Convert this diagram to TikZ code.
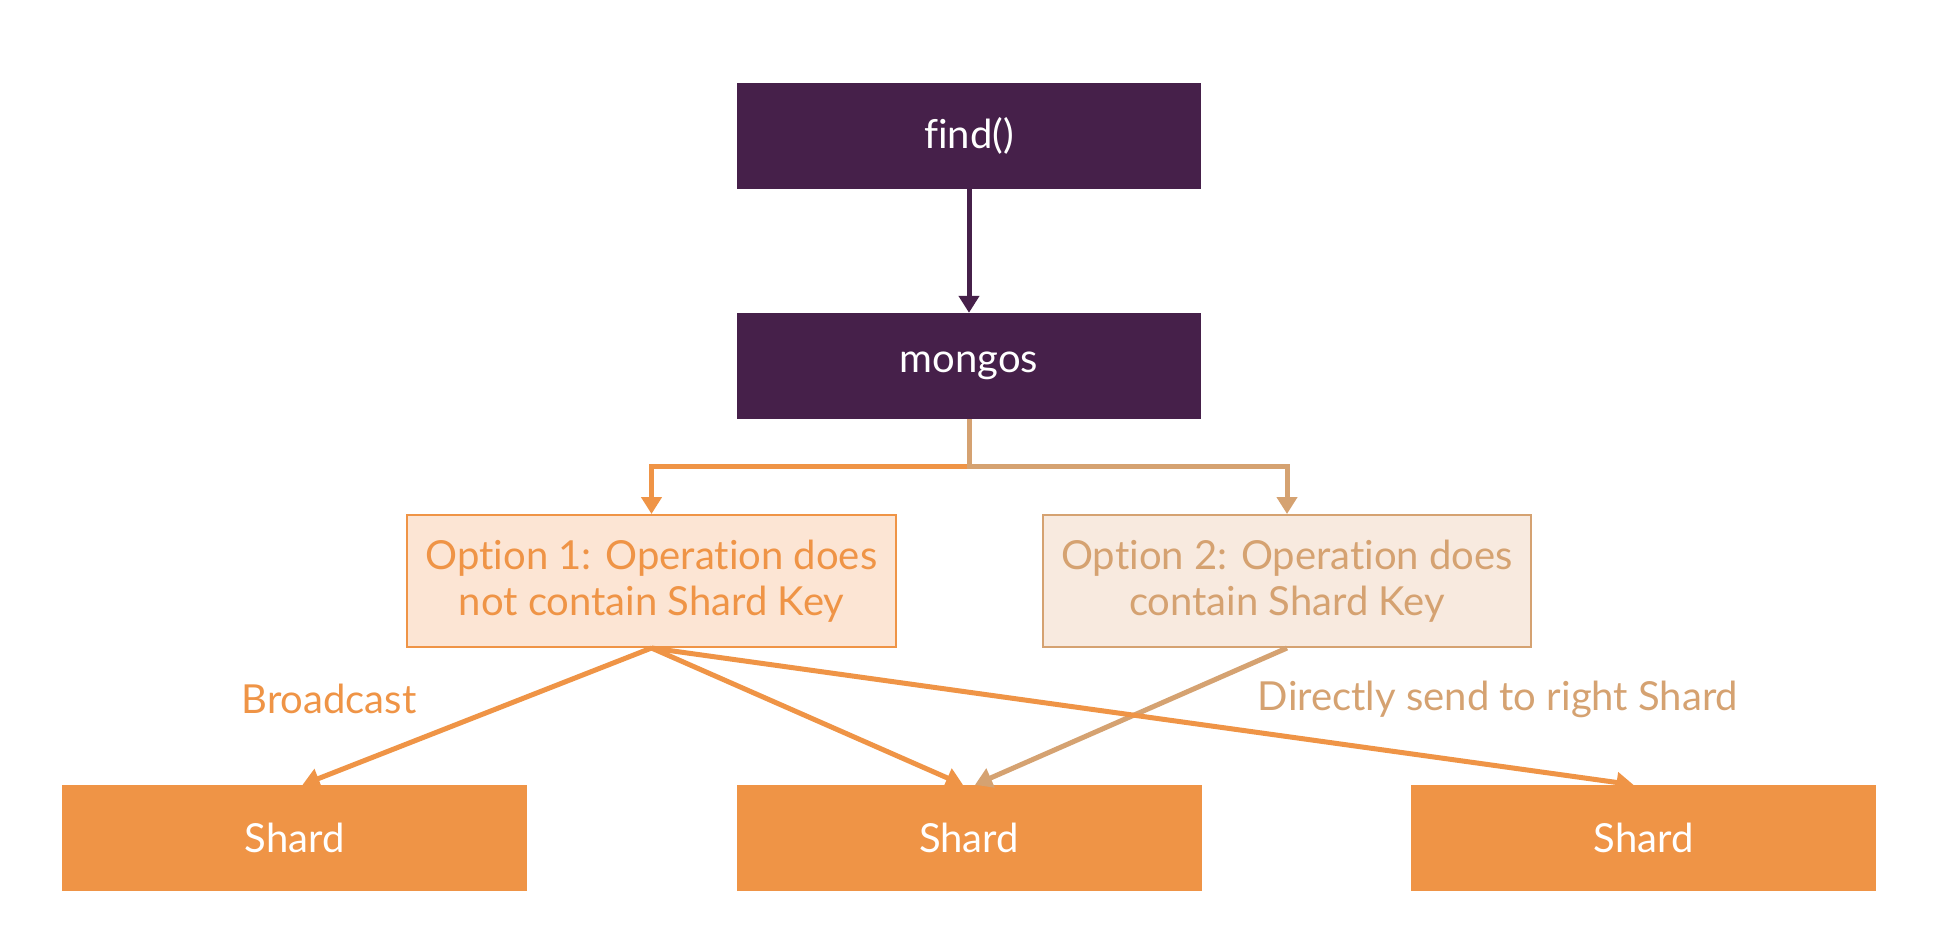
\documentclass[tikz,border=0pt]{standalone}
\usepackage{fontspec}
\setmainfont[Ligatures=NoCommon]{Lato}
\usetikzlibrary{arrows.meta,calc}
\definecolor{purp}{HTML}{46204A}
\definecolor{orng}{HTML}{EF9446}
\definecolor{tan}{HTML}{D5A271}
\definecolor{peach}{HTML}{FCE5D4}
\definecolor{cream}{HTML}{F8EADF}
\begin{document}
\begin{tikzpicture}[x=1pt,y=-1pt,
  txt/.style={font=\fontsize{40}{46}\selectfont},
  darkbox/.style={rectangle,fill=purp,text=white,minimum width=464pt,minimum height=106pt,inner sep=0pt,txt},
  optA/.style={rectangle,draw=orng,line width=2pt,fill=peach,text=orng,minimum width=489pt,minimum height=132pt,inner sep=0pt,align=center,txt},
  optB/.style={rectangle,draw=tan,line width=2pt,fill=cream,text=tan,minimum width=488pt,minimum height=132pt,inner sep=0pt,align=center,txt},
  shardbox/.style={rectangle,fill=orng,text=white,minimum width=465pt,minimum height=106pt,inner sep=0pt,txt},
  tip/.style={-{Triangle[width=20pt,length=17pt]}},
  conn/.style={line width=5pt,tip}
]
\useasboundingbox (0,0) rectangle (1948,948);
\fill[white] (0,0) rectangle (1948,948);
\node[darkbox] (find) at (969,136) {find()};
\node[darkbox] (mongos) at (969,366) {mongos};
\node[optA] (opt1) at (651.5,581) {Option 1: Operation does\\not contain Shard Key};
\node[optB] (opt2) at (1287,581) {Option 2: Operation does\\contain Shard Key};
\node[shardbox] (sh1) at (294.5,838) {Shard};
\node[shardbox] (sh2) at (969,838) {Shard};
\node[shardbox] (sh3) at (1643.5,838) {Shard};
\node[txt,text=orng] (lb1) at (329,699) {Broadcast};
\node[txt,text=tan] (lb2) at (1498,699) {Directly send to right Shard};
\coordinate (br) at (969,466);
\draw[purp,conn] (find.south) -- (mongos.north);
\draw[orng,conn] (br) -| (opt1.north);
\draw[tan,conn] (mongos.south) -- (br) -| (opt2.north);
\draw[orng,conn] (opt1.south) -- ($(sh1.north)+(8,0)$);
\draw[orng,conn] (opt1.south) -- ($(sh2.north)+(-6,0)$);
\draw[tan,conn] (opt2.south) -- ($(sh2.north)+(6,0)$);
\draw[orng,conn] (opt1.south) -- ($(sh3.north)+(-10,0)$);
\end{tikzpicture}
\end{document}
